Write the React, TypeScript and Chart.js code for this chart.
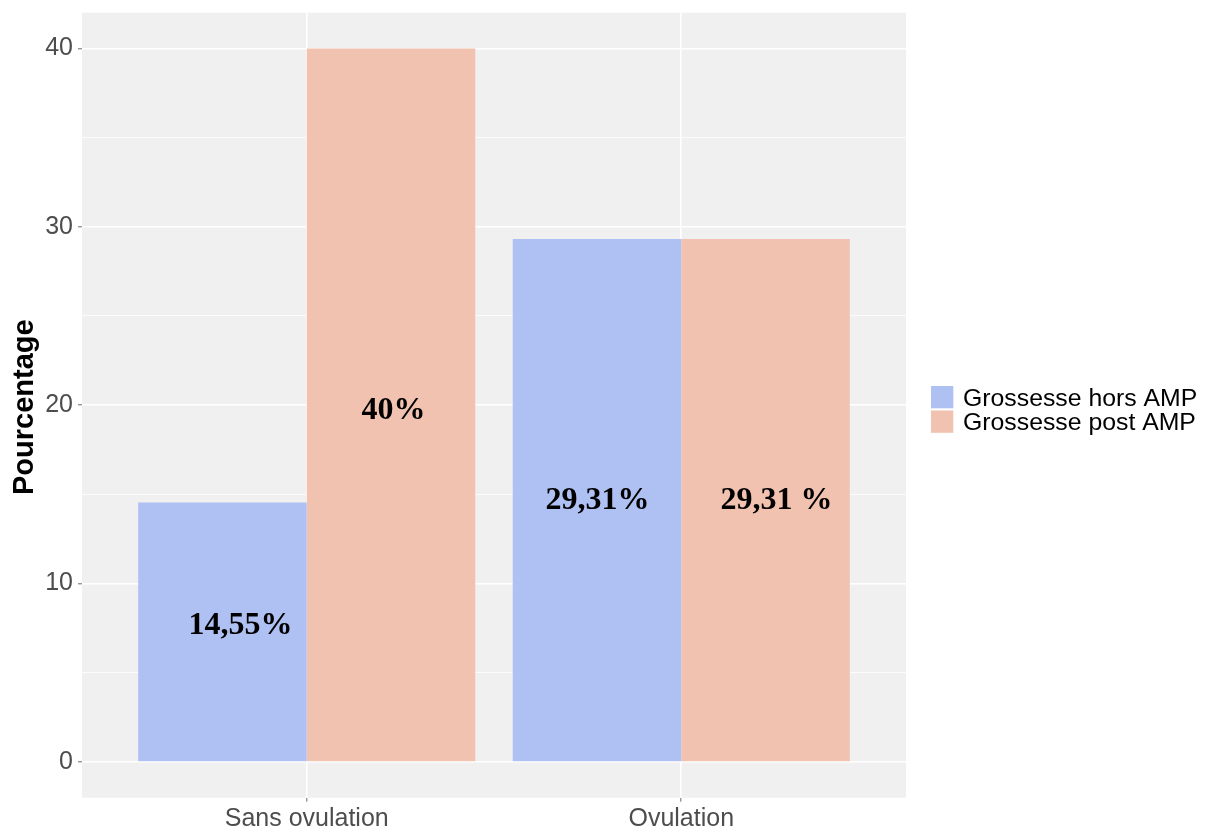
import React, { useEffect, useRef } from 'react';
import { Chart, registerables } from 'chart.js';

Chart.register(...registerables);

const categories = ['Sans ovulation', 'Ovulation'];
const seriesNames = ['Grossesse hors AMP', 'Grossesse post AMP'];
const horsAMP = [14.55, 29.31];
const postAMP = [40, 29.31];
const horsLabels = ['14,55%', '29,31%'];
const postLabels = ['40%', '29,31 %'];
const yMajorTicks = [0, 10, 20, 30, 40];
const yMinorTicks = [5, 15, 25, 35];

const seriesColors = ['#AFC0F2', '#F1C2B0'];
const SANS = '"Liberation Sans", Arial, Helvetica, sans-serif';
const SERIF = '"Liberation Serif", "Times New Roman", serif';

// small pixel nudges reproducing where the labels sit in the reference
const labelNudges = [
  [{ dx: 18, dy: -9 }, { dx: 0.5, dy: -2.4 }],
  [{ dx: 2.5, dy: 3.5 }, { dx: 11, dy: -2.4 }],
];

const ggPlugin = {
  id: 'ggDecor',
  beforeDraw(chart: any) {
    const { ctx, chartArea } = chart;
    ctx.save();
    ctx.fillStyle = '#F0F0F0';
    ctx.fillRect(chartArea.left, chartArea.top, chartArea.right - chartArea.left, chartArea.bottom - chartArea.top);
    ctx.restore();
  },
  afterDatasetsDraw(chart: any) {
    const { ctx, chartArea } = chart;
    const labelSets = [horsLabels, postLabels];
    const fontSize = 32;
    ctx.save();
    ctx.font = `bold ${fontSize}px ${SERIF}`;
    ctx.fillStyle = '#000000';
    ctx.textAlign = 'center';
    ctx.textBaseline = 'alphabetic';
    chart.data.datasets.forEach((_ds: any, di: number) => {
      const meta = chart.getDatasetMeta(di);
      meta.data.forEach((el: any, i: number) => {
        const n = labelNudges[di][i];
        const cx = el.x + n.dx;
        const cy = (el.y + el.base) / 2 + n.dy;
        ctx.fillText(labelSets[di][i], cx, cy + fontSize * 0.676 / 2);
      });
    });
    ctx.restore();

    // y axis title
    ctx.save();
    ctx.font = `bold 29px ${SANS}`;
    ctx.fillStyle = '#000000';
    ctx.textAlign = 'center';
    ctx.textBaseline = 'alphabetic';
    ctx.translate(33, (chartArea.top + chartArea.bottom) / 2 + 2);
    ctx.rotate(-Math.PI / 2);
    ctx.fillText('Pourcentage', 0, 0);
    ctx.restore();

    // legend
    ctx.save();
    const keyX = 931;
    const keyTops = [386, 410.5];
    const keySize = 22.3;
    ctx.font = `24.8px ${SANS}`;
    ctx.textAlign = 'left';
    ctx.textBaseline = 'alphabetic';
    seriesNames.forEach((name, i) => {
      ctx.fillStyle = seriesColors[i];
      ctx.fillRect(keyX, keyTops[i], keySize, keySize);
      ctx.fillStyle = '#000000';
      ctx.fillText(name, 963, keyTops[i] + keySize / 2 + 8.8);
    });
    ctx.restore();
  },
};

export default function App() {
  const canvasRef = useRef<HTMLCanvasElement | null>(null);

  useEffect(() => {
    document.body.style.margin = '0';
    document.body.style.overflow = 'hidden';
    const canvas = canvasRef.current;
    if (!canvas) return;
    const chart = new Chart(canvas, {
      type: 'bar',
      data: {
        datasets: [
          {
            label: seriesNames[0],
            data: horsAMP.map((y, i) => ({ x: i, y })),
            backgroundColor: seriesColors[0],
            borderWidth: 0,
            categoryPercentage: 0.9,
            barPercentage: 1.0,
          },
          {
            label: seriesNames[1],
            data: postAMP.map((y, i) => ({ x: i, y })),
            backgroundColor: seriesColors[1],
            borderWidth: 0,
            categoryPercentage: 0.9,
            barPercentage: 1.0,
          },
        ],
      },
      options: {
        animation: false,
        responsive: true,
        maintainAspectRatio: false,
        layout: { padding: { top: 12.7, right: 305, left: 0, bottom: 0 } },
        plugins: {
          legend: { display: false },
          tooltip: { enabled: false },
          title: { display: false },
        },
        scales: {
          x: {
            type: 'linear',
            min: -0.6,
            max: 1.6,
            offset: false,
            afterBuildTicks: (scale: any) => {
              scale.ticks = categories.map((_c, i) => ({ value: i }));
            },
            afterFit: (scale: any) => {
              scale.height = 828 - 797.7;
              scale.paddingLeft = 0;
              scale.paddingRight = 0;
            },
            ticks: {
              callback: (v: any) => categories[Number(v)] ?? '',
              font: { family: SANS, size: 25 },
              color: '#4D4D4D',
              padding: 2,
              autoSkip: false,
              maxRotation: 0,
            },
            grid: {
              color: '#FFFFFF',
              lineWidth: 1.6,
              offset: false,
              drawTicks: true,
              tickLength: 4,
              tickColor: '#6b6b6b',
              tickWidth: 1,
            },
            border: { display: false },
          },
          y: {
            type: 'linear',
            min: -2,
            max: 42,
            afterBuildTicks: (scale: any) => {
              scale.ticks = [...yMajorTicks, ...yMinorTicks].sort((a, b) => a - b).map((v) => ({ value: v }));
            },
            afterFit: (scale: any) => {
              scale.width = 82;
              scale.paddingTop = 0;
              scale.paddingBottom = 0;
            },
            ticks: {
              callback: (v: any) => (yMajorTicks.includes(Number(v)) ? String(v) : ''),
              font: { family: SANS, size: 25 },
              color: '#4D4D4D',
              padding: 5,
              autoSkip: false,
            },
            grid: {
              color: '#FFFFFF',
              lineWidth: (c: any) => (c.tick && yMinorTicks.includes(c.tick.value) ? 0.8 : 1.6),
              drawTicks: true,
              tickLength: 4,
              tickColor: (c: any) => (c.tick && yMinorTicks.includes(c.tick.value) ? 'rgba(0,0,0,0)' : '#6b6b6b'),
              tickWidth: 1,
            },
            border: { display: false },
          },
        },
      },
      plugins: [ggPlugin],
    } as any);
    return () => {
      chart.destroy();
    };
  }, []);

  return (
    <div style={{ position: 'relative', width: 1211, height: 828, background: '#FFFFFF' }}>
      <canvas ref={canvasRef} />
    </div>
  );
}
